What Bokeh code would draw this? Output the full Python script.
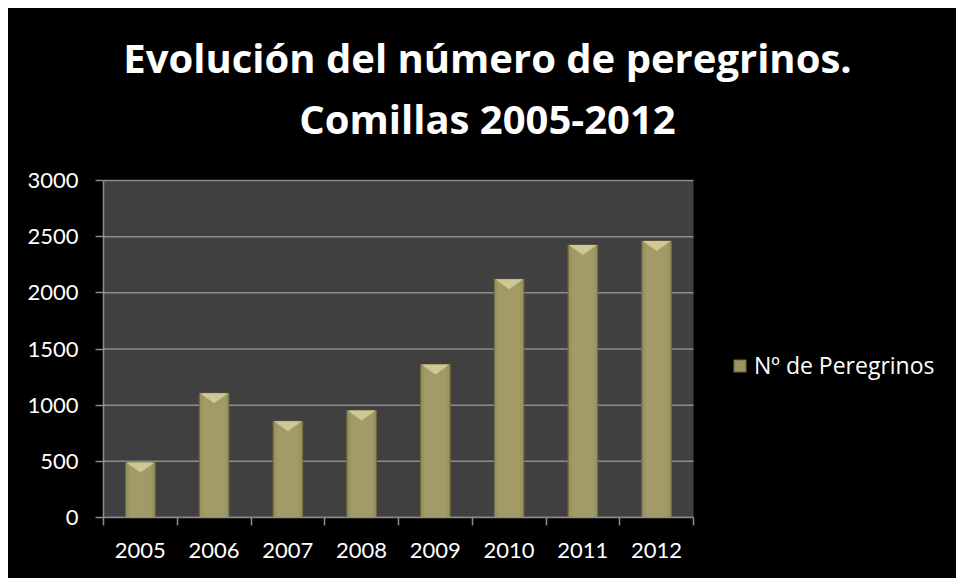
from bokeh.plotting import figure
from bokeh.models import (Range1d, FixedTicker, Legend, LegendItem, Label,
                          ColumnDataSource, BoxAnnotation)
from bokeh.embed import file_html
from bokeh.resources import INLINE

years = ["2005", "2006", "2007", "2008", "2009", "2010", "2011", "2012"]
peregrinos = [490, 1105, 857, 952, 1361, 2121, 2426, 2461]
y_ticks = [0, 500, 1000, 1500, 2000, 2500, 3000]
y_max = 3000
series_name = "Nº de Peregrinos"
title_line1 = "Evolución del número de peregrinos."
title_line2 = "Comillas 2005-2012"

FONT = "Lato"
TFONT = "Open Sans"
n = len(years)
xpos = list(range(1, n + 1))
BAR_W = 0.4
src = ColumnDataSource(data=dict(x=xpos, y=peregrinos, year=years))

# layout (pixels, canvas coordinates)
W, H = 948, 570
LEFT, BOTTOM = 95, 61
PLOT_W, PLOT_H = 590, 337          # size of the grey plotting area
FRAME_W = W - LEFT
FRAME_H = H - BOTTOM
ux = n / PLOT_W                      # data units per pixel (x)
uy = y_max / PLOT_H                  # data units per pixel (y)

p = figure(width=W, height=H, output_backend="svg", toolbar_location=None,
           x_range=Range1d(0.5, 0.5 + FRAME_W * ux),
           y_range=Range1d(0, FRAME_H * uy),
           min_border_left=LEFT, min_border_right=0, min_border_bottom=BOTTOM,
           min_border_top=0, title=None)
p.margin = (8, 0, 0, 8)
p.styles = {"background-color": "black"}

p.background_fill_alpha = 0
p.border_fill_color = "black"
p.outline_line_color = None

p.add_layout(BoxAnnotation(left=0.5, right=n + 0.5, bottom=0, top=y_max,
                           fill_color="#404040", fill_alpha=1, line_color=None,
                           level="underlay"))

# horizontal gridlines limited to the plotting area
p.segment(x0=[0.5] * len(y_ticks), x1=[n + 0.5] * len(y_ticks), y0=y_ticks, y1=y_ticks,
          line_color="#8c8c8c", line_width=1.5)

r = p.vbar(x="x", top="y", width=BAR_W, source=src, fill_color="#9b9461",
           line_color="#6f6940", line_width=1.2)
p.vbar(x="x", top="y", width=BAR_W * 0.75, source=src, fill_color="#a29b68",
       line_color=None)
# bevel highlight at the top of each bar
bev = 10 * uy
p.patches(xs=[[x - BAR_W / 2 + 0.01, x + BAR_W / 2 - 0.01, x] for x in xpos],
          ys=[[v, v, v - bev] for v in peregrinos],
          fill_color="#cfc894", line_color=None)

# Axes
p.yaxis.bounds = (0, y_max)
p.yaxis.ticker = FixedTicker(ticks=y_ticks)
p.yaxis.axis_line_color = "#8c8c8c"
p.yaxis.axis_line_width = 1.5
p.yaxis.major_tick_line_color = "#8c8c8c"
p.yaxis.major_tick_line_width = 1.5
p.yaxis.major_tick_out = 8
p.yaxis.major_tick_in = 0
p.yaxis.minor_tick_line_color = None
p.yaxis.major_label_text_color = "white"
p.yaxis.major_label_text_font = FONT
p.yaxis.major_label_text_font_size = "22px"
p.yaxis.major_label_standoff = 17

p.xaxis.bounds = (0.5, n + 0.5)
p.xaxis.ticker = FixedTicker(ticks=xpos, minor_ticks=[i + 0.5 for i in range(0, n + 1)])
p.xaxis.major_label_overrides = {i: y for i, y in zip(xpos, years)}
p.xaxis.axis_line_color = "#8c8c8c"
p.xaxis.axis_line_width = 1.5
p.xaxis.major_tick_line_color = None
p.xaxis.minor_tick_line_color = "#8c8c8c"
p.xaxis.minor_tick_line_width = 1.5
p.xaxis.minor_tick_out = 8
p.xaxis.minor_tick_in = 0
p.xaxis.major_label_text_color = "white"
p.xaxis.major_label_text_font = FONT
p.xaxis.major_label_text_font_size = "22px"
p.xaxis.major_label_standoff = 17

p.xgrid.grid_line_color = None
p.ygrid.grid_line_color = None

# Titles (centred at canvas x=479)
title_cx = 0.5 + (479 - LEFT) * ux
for txt, base in ((title_line1, 49), (title_line2, 110)):
    p.add_layout(Label(x=title_cx, y=(FRAME_H - base) * uy, text=txt,
                       text_align="center", text_baseline="alphabetic",
                       text_color="white", text_font=TFONT,
                       text_font_size="40px", text_font_style="bold"))

legend = Legend(items=[LegendItem(label=series_name, renderers=[r])],
                location=(629, 136), padding=0, margin=0, spacing=0,
                border_line_alpha=0, background_fill_alpha=0,
                glyph_width=15, glyph_height=15, label_standoff=7,
                label_text_color="white", label_text_font=TFONT,
                label_text_font_size="23px")
p.add_layout(legend, "center")

open("out.html", "w").write(file_html(p, INLINE))
